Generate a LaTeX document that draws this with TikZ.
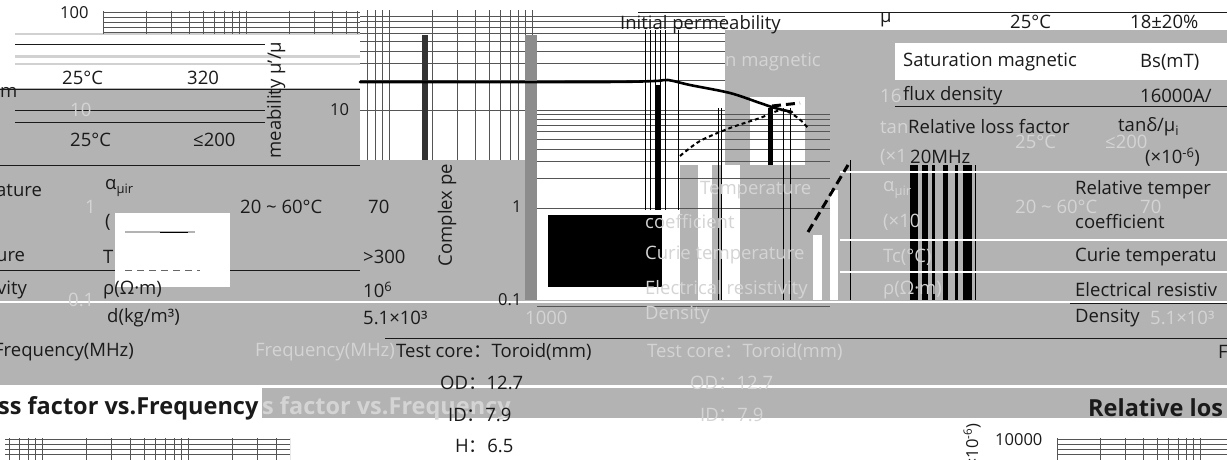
\documentclass[tikz,border=0pt]{standalone}
\usepackage{fontspec}
\setmainfont{Open Sans}
\newfontfamily\cjk{Noto Sans CJK SC}
\newcommand{\fwc}{{\cjk ：}}
\definecolor{gr}{HTML}{B3B3B3}
\definecolor{fd}{HTML}{D4D4D4}
\definecolor{dk}{HTML}{1A1A1A}
\definecolor{gl}{HTML}{555555}
\tikzset{
  txt/.style={font=\fontsize{18.5}{20}\selectfont, text=dk, inner sep=0pt, anchor=west},
  ftxt/.style={txt, text=fd},
  btxt/.style={txt, font=\fontsize{23.5}{25}\selectfont\bfseries},
  stxt/.style={txt, font=\fontsize{16.5}{18}\selectfont},
  gridl/.style={draw=gl, line width=0.6pt},
  darkl/.style={draw=dk, line width=1pt},
  whitel/.style={draw=white, line width=1.2pt},
  curve/.style={draw=black, line width=2.6pt, line cap=round},
  dcurve/.style={draw=black, line width=2pt, dash pattern=on 4pt off 3pt},
  bigdash/.style={draw=black, line width=3pt, dash pattern=on 9pt off 5pt}
}
\begin{document}
\begin{tikzpicture}[x=1pt,y=-1pt]
\useasboundingbox (0,0) rectangle (1227,460);
\fill[white] (0,0) rectangle (1227,460);
% gray regions
\fill[gr] (0,88) rectangle (360,386);
\fill[gr] (0,300) rectangle (1227,386);
\fill[gr] (262,388) rectangle (1227,418);
\fill[gr] (360,160) rectangle (537,300);
\fill[gr] (725,30) rectangle (1227,300);
\fill[gr] (680,165) rectangle (725,300);
\fill[gr!60] (15,55) rectangle (360,58);
\fill[gr!60] (15,63) rectangle (360,65);
\fill[gr!60] (15,33) rectangle (360,35);
% white pockets
\fill[white] (895,43) rectangle (1227,80);
\fill[white] (750,97) rectangle (805,165);
\fill[white] (698,165) rectangle (712,300);
\fill[white] (722,165) rectangle (740,300);
\fill[white] (813,235) rectangle (822,300);
\fill[white] (830,190) rectangle (838,300);
% top-left grid
\begin{scope}
\clip (103,11) rectangle (360,34);
\foreach \d in {0,1,2} \foreach \k in {1,...,9}
  \draw[gridl] ({103+\d*143+143*log10(\k)},11) -- ++(0,24);
\foreach \yy in {12,17,22,27,32} \draw[gridl] (103,\yy) -- (360,\yy);
\end{scope}
% permeability chart grid
\begin{scope}
\clip (360,11) rectangle (537,160);
\foreach \d in {1,2,3} \foreach \k in {1,...,9}
  \draw[gridl] ({103+\d*143+143*log10(\k)},10) -- ++(0,150);
\end{scope}
\foreach \k in {1,...,9} {
  \draw[gridl] (360,{12+98*(1-log10(\k))}) -- (725,{12+98*(1-log10(\k))});
  \draw[gridl] (537,{110+98*(1-log10(\k))}) -- (830,{110+98*(1-log10(\k))});
}
\draw[gridl] (537,306) -- (830,306);
% vertical bars and lines
\fill[black!80] (422,35) rectangle (428,160);
\fill[black!45] (525,35) rectangle (537,300);
\foreach \xx in {645,650,655,660,665,678} \draw[black, line width=0.8pt] (\xx,30) -- (\xx,210);
\fill[black] (655,85) rectangle (660,210);
\fill[black] (768,108) rectangle (773,165);
\foreach \xx in {783,790,718,721} \draw[black, line width=0.8pt] (\xx,108) -- (\xx,300);
\draw[black, line width=0.8pt] (850,160) -- (850,300);
\foreach \a/\b in {910/918,922/928,932/935,943/948,955/958,963/972}
  \fill[black] (\a,165) rectangle (\b,300);
\draw[black, line width=0.8pt] (975,165) -- (975,300);
% horizontal dark / white lines
\foreach \yy in {45,110,122} \draw[darkl] (15,\yy) -- (265,\yy);
\foreach \yy in {90,165,270} \draw[darkl] (0,\yy) -- (360,\yy);
\draw[whitel] (0,302) -- (1227,302);
\draw[darkl] (385,338) -- (1227,338);
\draw[whitel] (0,386) -- (1227,386);
\draw[darkl] (638,13) -- (1227,13);
\draw[darkl] (895,106) -- (1227,106);
\foreach \yy in {172,240,272} \draw[whitel] (840,\yy) -- (1227,\yy);
\draw[darkl] (1070,303) -- (1227,303);
% curves
\draw[curve] plot[smooth] coordinates {(360,82) (600,82) (655,81) (668,80) (690,85) (730,93) (760,103) (775,108) (792,112)};
\draw[dcurve] plot[smooth] coordinates {(680,156) (700,141) (730,128) (760,118) (782,110) (798,118) (808,128)};
\draw[bigdash] (772,106) -- (800,103);
\draw[bigdash] (808,232) -- (848,165);
% legend and black box
\fill[white] (115,213) rectangle (230,287);
\draw[gr, line width=2pt] (125,232) -- (195,232);
\draw[black, line width=0.6pt] (160,232) -- (188,232);
\draw[black!60, line width=1pt, dash pattern=on 7pt off 5pt] (125,270) -- (200,270);
\fill[black] (548,215) rectangle (662,287);
% bottom grids
\begin{scope}
\clip (5,438) rectangle (290,460);
\foreach \d in {-1,0,1} \foreach \k in {1,...,9}
  \draw[gridl] ({42+\d*146+146*log10(\k)},438) -- ++(0,24);
\foreach \yy in {439,444,449,454} \draw[gridl] (5,\yy) -- (290,\yy);
\end{scope}
\begin{scope}
\clip (1057,438) rectangle (1227,460);
\foreach \d in {0,1} \foreach \k in {1,...,9}
  \draw[gridl] ({1057+\d*143+143*log10(\k)},438) -- ++(0,24);
\foreach \yy in {439,444,449,454} \draw[gridl] (1057,\yy) -- (1227,\yy);
\end{scope}
% faded text
\node[ftxt] (f1) at (70,110) {10};
\node[ftxt] (f2) at (85,207) {1};
\node[ftxt] (f3) at (68,300) {0.1};
\node[ftxt] (f4) at (725,62) {n magnetic};
\node[ftxt] (f5) at (880,96) {16};
\node[ftxt] (f6) at (880,127) {tan};
\node[ftxt] (f7) at (880,157) {(×1};
\node[ftxt] (f8) at (1015,142) {25°C};
\node[ftxt] (f9) at (1105,142) {≤200};
\node[ftxt] (f10) at (700,190) {Temperature};
\node[ftxt] (f11) at (645,222) {coefficient};
\node[ftxt] (f12) at (645,255) {Curie temperature};
\node[ftxt] (f13) at (645,290) {Electrical resistivity};
\node[ftxt] (f14) at (883,190) {α\textsubscript{μir}};
\node[ftxt] (f15) at (1015,207) {20 \textasciitilde{} 60°C};
\node[ftxt] (f16) at (1140,207) {70};
\node[ftxt] (f17) at (883,222) {(×10};
\node[ftxt] (f18) at (883,257) {Tc(°C)};
\node[ftxt] (f19) at (883,290) {ρ(Ω·m)};
\node[ftxt] (f20) at (255,352) {Frequency(MHz)};
\node[ftxt] (f21) at (647,352) {Test core\fwc Toroid(mm)};
\node[ftxt] (f22) at (690,383) {OD\fwc 12.7};
\node[ftxt] (f23) at (700,415) {ID\fwc 7.9};
\node[ftxt] (f24) at (645,315) {Density};
\node[ftxt] (f25) at (525,318) {1000};
\node[ftxt, font=\fontsize{23.5}{25}\selectfont\bfseries] (f26) at (262,408) {s factor vs.Frequency};
\node[ftxt] (f27) at (1150,318) {5.1×10³};
% dark text
\node[stxt] (t1) at (60,13) {100};
\node[txt] (t2) at (62,78) {25°C};
\node[txt] (t3) at (187,78) {320};
\node[txt] (t4) at (0,92) {m};
\node[txt] (t5) at (70,140) {25°C};
\node[txt] (t6) at (193,140) {≤200};
\node[stxt] (t7) at (330,110) {10};
\node[txt] (t8) at (-4,190) {ature};
\node[txt] (t9) at (105,188) {α\textsubscript{μir}};
\node[txt] (t10) at (240,207) {20 \textasciitilde{} 60°C};
\node[txt] (t11) at (368,207) {70};
\node[txt] (t12) at (105,222) {(};
\node[txt] (t13) at (-4,257) {ure};
\node[txt] (t14) at (103,257) {T};
\node[txt] (t15) at (363,257) {>300};
\node[txt] (t16) at (-3,290) {vity};
\node[txt] (t17) at (103,290) {ρ(Ω·m)};
\node[txt] (t18) at (363,290) {10\textsuperscript{6}};
\node[txt] (t19) at (107,318) {d(kg/m³)};
\node[txt] (t20) at (363,318) {5.1×10³};
\node[txt] (t21) at (-6,352) {Frequency(MHz)};
\node[txt] (t22) at (396,352) {Test core\fwc Toroid(mm)};
\node[txt] (t23) at (440,383) {OD\fwc 12.7};
\node[txt] (t24) at (448,415) {ID\fwc 7.9};
\node[txt] (t25) at (455,446) {H\fwc 6.5};
\node[btxt] (t26) at (-2,408) {ss factor vs.Frequency};
\node[btxt] (t27) at (1088,408) {Relative los};
\node[stxt] (t28) at (995,440) {10000};
\node[txt] (t29) at (620,25) {Initial permeability};
\node[txt] (t30) at (880,20) {μ};
\node[txt] (t31) at (1010,22) {25°C};
\node[txt] (t32) at (1130,22) {18±20\%};
\node[txt] (t33) at (903,62) {Saturation magnetic};
\node[txt] (t34) at (1140,62) {Bs(mT)};
\node[txt] (t35) at (903,96) {flux density};
\node[txt] (t36) at (1140,96) {16000A/};
\node[txt] (t37) at (908,127) {Relative loss factor};
\node[txt] (t38) at (1118,127) {tanδ/μ\textsubscript{i}};
\node[txt] (t39) at (910,157) {20MHz};
\node[txt] (t40) at (1145,157) {(×10\textsuperscript{-6})};
\node[txt] (t41) at (1075,190) {Relative temper};
\node[txt] (t42) at (1075,222) {coefficient};
\node[txt] (t43) at (1075,257) {Curie temperatu};
\node[txt] (t44) at (1075,290) {Electrical resistiv};
\node[txt] (t45) at (1075,318) {Density};
\node[txt] (t46) at (1218,352) {F};
\node[stxt] (t47) at (498,300) {0.1};
\node[stxt] (t48) at (512,207) {1};
\node[txt, rotate=90, anchor=center] (t49) at (276,100) {meability μ'/μ};
\node[txt, rotate=90, anchor=center] (t50) at (447,215) {Complex pe};
\node[stxt, rotate=90, anchor=center] (t51) at (972,448) {(×10\textsuperscript{-6})};
\end{tikzpicture}
\end{document}
